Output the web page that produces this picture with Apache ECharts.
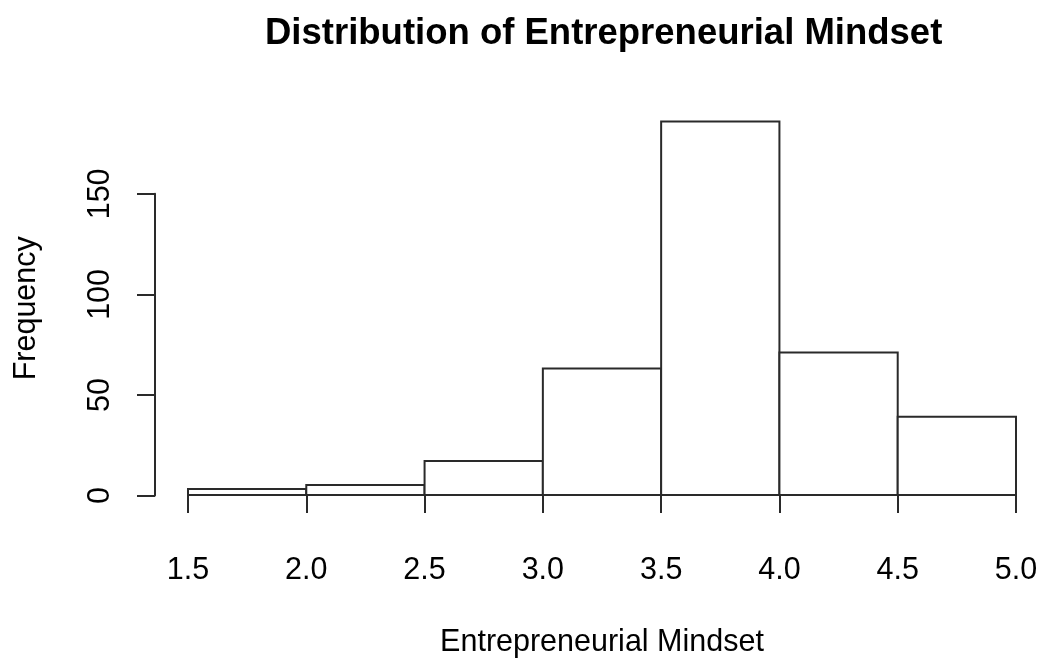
<!DOCTYPE html>
<html>
<head>
<meta charset="utf-8">
<title>Distribution of Entrepreneurial Mindset</title>
<script src="https://cdn.jsdelivr.net/npm/echarts@6/dist/echarts.min.js"></script>
<style>
  html, body { margin: 0; padding: 0; background: #ffffff; }
  #chart { width: 1045px; height: 663px; }
</style>
</head>
<body>
<div id="chart"></div>
<script>
// Histogram bins (break points) and the count in each bin
const binEdges = [1.5, 2.0, 2.5, 3.0, 3.5, 4.0, 4.5, 5.0];
const counts = [3, 5, 17, 63, 186, 71, 39];
// Labelled ticks on the frequency axis
const yTicks = [0, 50, 100, 150];

const FONT = '"Liberation Sans", Arial, Helvetica, sans-serif';
const INK = '#2a2a2a';
const LINE_W = 2;

// Plot region uses a y range padded 4% past [0, max count]
const maxCount = Math.max(...counts);
const pad = maxCount * 0.04;
const yMin = -pad;
const yMax = maxCount + pad;

const H = 663;
const plotTop = 106.5;
const plotBottom = 510.5;
const pxPerUnit = (plotBottom - plotTop) / (yMax - yMin);
const yPixel = v => plotBottom - (v - yMin) * pxPerUnit;

// The drawn frequency axis only spans the labelled ticks
const axisTopPx = yPixel(yTicks[yTicks.length - 1]);
const axisBottomPx = yPixel(yTicks[0]);

const bars = counts.map((c, i) => [binEdges[i], binEdges[i + 1], c]);

const textStyle = { fontFamily: FONT, color: '#000000' };

const option = {
  animation: false,
  backgroundColor: '#ffffff',
  title: {
    text: 'Distribution of Entrepreneurial Mindset',
    left: 265,
    top: 15,
    padding: 0,
    textStyle: { fontFamily: FONT, fontSize: 36.5, fontWeight: 'bold', color: '#000000' }
  },
  grid: [
    { left: 188, right: 29, top: plotTop, bottom: H - plotBottom, containLabel: false },
    { left: 155, right: 29, top: axisTopPx, bottom: H - axisBottomPx, containLabel: false }
  ],
  xAxis: [
    {
      type: 'value',
      gridIndex: 0,
      min: binEdges[0],
      max: binEdges[binEdges.length - 1],
      interval: 0.5,
      position: 'bottom',
      axisLine: { show: true, lineStyle: { color: INK, width: LINE_W } },
      axisTick: { show: true, inside: false, length: 18, lineStyle: { color: INK, width: LINE_W } },
      axisLabel: {
        show: true, margin: 45, fontSize: 30.5, ...textStyle,
        formatter: v => v.toFixed(1)
      },
      splitLine: { show: false },
      name: 'Entrepreneurial Mindset',
      nameLocation: 'middle',
      nameGap: 117,
      nameTextStyle: { fontSize: 30.5, ...textStyle }
    },
    {
      type: 'value',
      gridIndex: 1,
      min: 0, max: 1,
      show: false
    }
  ],
  yAxis: [
    {
      type: 'value',
      gridIndex: 0,
      min: yMin,
      max: yMax,
      axisLine: { show: false },
      axisTick: { show: false },
      axisLabel: { show: false },
      splitLine: { show: false },
      name: 'Frequency',
      nameLocation: 'middle',
      nameGap: 146,
      nameTextStyle: { fontSize: 30.5, ...textStyle }
    },
    {
      type: 'value',
      gridIndex: 1,
      min: yTicks[0],
      max: yTicks[yTicks.length - 1],
      interval: yTicks[1] - yTicks[0],
      position: 'left',
      axisLine: { show: true, lineStyle: { color: INK, width: LINE_W } },
      axisTick: { show: true, inside: false, length: 18, lineStyle: { color: INK, width: LINE_W } },
      axisLabel: { show: true, rotate: 90, margin: 39, fontSize: 30.5, ...textStyle },
      splitLine: { show: false }
    }
  ],
  series: [
    {
      type: 'custom',
      xAxisIndex: 0,
      yAxisIndex: 0,
      data: bars,
      encode: { x: [0, 1], y: 2 },
      renderItem: function (params, api) {
        const topLeft = api.coord([api.value(0), api.value(2)]);
        const bottomRight = api.coord([api.value(1), 0]);
        return {
          type: 'rect',
          shape: {
            x: topLeft[0],
            y: topLeft[1],
            width: bottomRight[0] - topLeft[0],
            height: bottomRight[1] - topLeft[1]
          },
          style: { fill: '#ffffff', stroke: INK, lineWidth: LINE_W }
        };
      }
    }
  ]
};

const chart = echarts.init(document.getElementById('chart'), null, { renderer: 'canvas' });
chart.setOption(option);
</script>
</body>
</html>
